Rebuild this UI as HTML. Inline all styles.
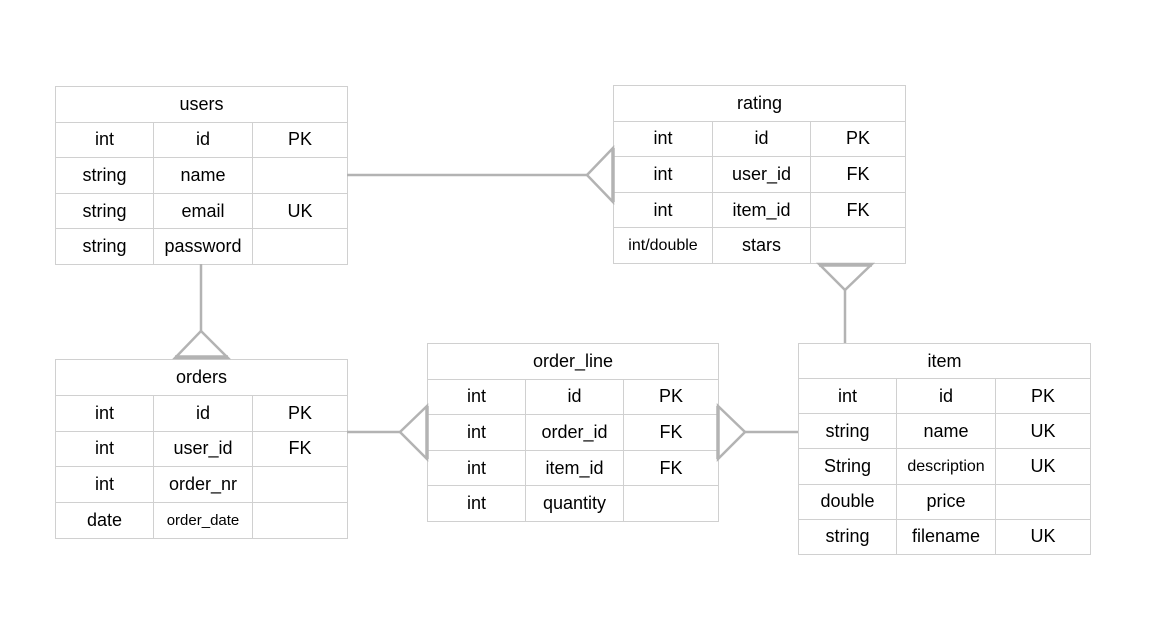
<!DOCTYPE html>
<html><head><meta charset="utf-8"><style>
body{margin:0;background:#fff;width:1163px;height:632px;overflow:hidden;font-family:"Liberation Sans",Arial,sans-serif;}
svg{position:absolute;left:0;top:0;z-index:2}
table{position:absolute;border-collapse:collapse;font-size:18px;color:#000;}
td{border:1px solid #d0d0d0;text-align:center;padding:0;}
.s{font-size:15px}
</style></head><body>
<table style="left:55px;top:86px;width:293px;height:179px">
<tr><td colspan="3">users</td></tr>
<tr><td style="width:97px">int</td><td style="width:98px">id</td><td>PK</td></tr>
<tr><td>string</td><td>name</td><td></td></tr>
<tr><td>string</td><td>email</td><td>UK</td></tr>
<tr><td>string</td><td>password</td><td></td></tr>
</table>

<table style="left:613px;top:85px;width:293px;height:179px">
<tr><td colspan="3">rating</td></tr>
<tr><td style="width:98px">int</td><td style="width:97px">id</td><td>PK</td></tr>
<tr><td>int</td><td>user_id</td><td>FK</td></tr>
<tr><td>int</td><td>item_id</td><td>FK</td></tr>
<tr><td style="font-size:16px">int/double</td><td>stars</td><td></td></tr>
</table>

<table style="left:55px;top:359px;width:293px;height:180px">
<tr><td colspan="3">orders</td></tr>
<tr><td style="width:97px">int</td><td style="width:98px">id</td><td>PK</td></tr>
<tr><td>int</td><td>user_id</td><td>FK</td></tr>
<tr><td>int</td><td>order_nr</td><td></td></tr>
<tr><td>date</td><td class="s">order_date</td><td></td></tr>
</table>

<table style="left:427px;top:343px;width:292px;height:179px">
<tr><td colspan="3">order_line</td></tr>
<tr><td style="width:97px">int</td><td style="width:97px">id</td><td>PK</td></tr>
<tr><td>int</td><td>order_id</td><td>FK</td></tr>
<tr><td>int</td><td>item_id</td><td>FK</td></tr>
<tr><td>int</td><td>quantity</td><td></td></tr>
</table>

<table style="left:798px;top:343px;width:293px;height:212px">
<tr><td colspan="3">item</td></tr>
<tr><td style="width:97px">int</td><td style="width:98px">id</td><td>PK</td></tr>
<tr><td>string</td><td>name</td><td>UK</td></tr>
<tr><td>String</td><td style="font-size:16px">description</td><td>UK</td></tr>
<tr><td>double</td><td>price</td><td></td></tr>
<tr><td>string</td><td>filename</td><td>UK</td></tr>
</table>

<svg width="1163" height="632">
<g stroke="#b3b3b3" stroke-width="2.5" fill="none">
<line x1="347" y1="175" x2="587" y2="175"/>
<polygon points="613,148 587,175 613,202"/>
<line x1="201" y1="264" x2="201" y2="331"/>
<polygon points="175,358 201,331 228,358"/>
<line x1="845" y1="290" x2="845" y2="343"/>
<polygon points="819,264 845,290 872,264"/>
<line x1="347" y1="432" x2="400" y2="432"/>
<polygon points="427,406 400,432 427,459"/>
<line x1="745" y1="432" x2="798" y2="432"/>
<polygon points="718,406 745,432 718,459"/>
</g>
<g stroke="#b3b3b3" stroke-width="3.5">
<line x1="613" y1="148" x2="613" y2="202"/>
<line x1="175" y1="357" x2="228" y2="357"/>
<line x1="819" y1="265" x2="872" y2="265"/>
<line x1="427" y1="406" x2="427" y2="459"/>
<line x1="718" y1="406" x2="718" y2="459"/>
</g></svg>
</body></html>
